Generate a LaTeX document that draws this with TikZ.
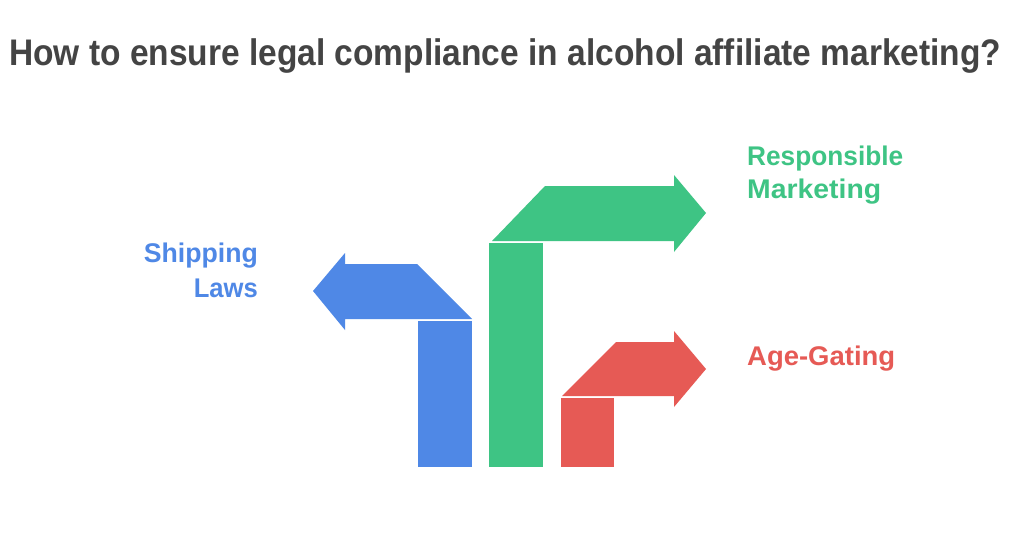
\documentclass[tikz,border=0pt]{standalone}
\usepackage{fontspec}
\setmainfont{Liberation Sans}
\definecolor{cblue}{HTML}{4F88E6}
\definecolor{cgreen}{HTML}{3EC484}
\definecolor{cred}{HTML}{E65A55}
\definecolor{ctitle}{HTML}{444444}
\begin{document}
\begin{tikzpicture}[x=1pt,y=-1pt,
  lbl/.style={inner sep=0pt,font=\bfseries\fontsize{27}{32}\selectfont},
  ttl/.style={inner sep=0pt,font=\bfseries\fontsize{37}{44}\selectfont,text=ctitle}]
\useasboundingbox (0,0) rectangle (1024,536);
\fill[white] (0,0) rectangle (1024,536);
% title
\node[ttl,anchor=base west] (title) at (9,65) {\resizebox{992pt}{\height}{How to ensure legal compliance in alcohol affiliate marketing?}};
% blue
\fill[cblue] (472,319) -- (417,264) -- (345,264) -- (345,253) -- (313,291) -- (345,330) -- (345,319) -- cycle;
\fill[cblue] (418,321) rectangle (472,467);
% green
\fill[cgreen] (492,241) -- (545,186) -- (674,186) -- (674,175) -- (706,213) -- (674,252) -- (674,241) -- cycle;
\fill[cgreen] (489,243) rectangle (543,467);
% red
\fill[cred] (562,396) -- (616,342) -- (674,342) -- (674,331) -- (706,369) -- (674,407) -- (674,396) -- cycle;
\fill[cred] (561,398) rectangle (614,467);
% labels
\node[lbl,text=cblue,anchor=base east] (ship) at (258,262) {\resizebox{114pt}{\height}{Shipping}};
\node[lbl,text=cblue,anchor=base east] (laws) at (258,297) {\resizebox{64pt}{\height}{Laws}};
\node[lbl,text=cgreen,anchor=base west] (resp) at (747,165) {\resizebox{156pt}{\height}{Responsible}};
\node[lbl,text=cgreen,anchor=base west] (mark) at (747,198) {\resizebox{134pt}{\height}{Marketing}};
\node[lbl,text=cred,anchor=base west] (age) at (747,365) {\resizebox{148pt}{\height}{Age-Gating}};
\end{tikzpicture}
\end{document}
